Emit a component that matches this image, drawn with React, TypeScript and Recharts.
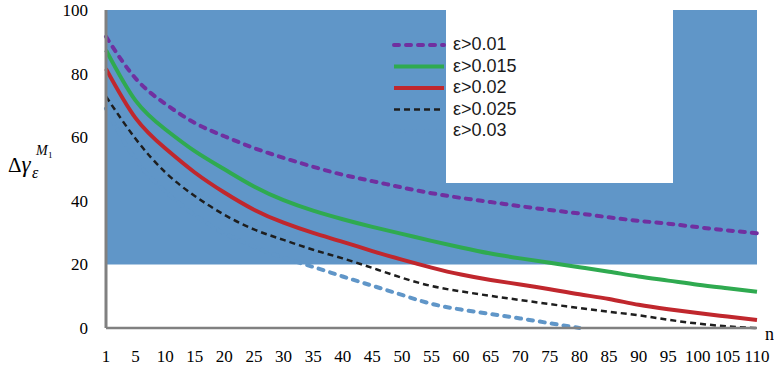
import { LineChart, Line, XAxis, YAxis, ReferenceArea } from "recharts";

// x categories (n)
const nLabels = [1, 5, 10, 15, 20, 25, 30, 35, 40, 45, 50, 55, 60, 65, 70, 75, 80, 85, 90, 95, 100, 105, 110];

// series values
const eps001 = [91.6, 78.5, 70.5, 64.5, 60.3, 56.6, 53.5, 50.7, 48.2, 46.2, 44.2, 42.4, 40.9, 39.6, 38.3, 37.1, 36, 34.8, 33.7, 32.8, 31.7, 30.7, 29.8];
const eps0015 = [87.4, 71.5, 62.5, 55.6, 49.9, 44.5, 40.2, 36.9, 34.2, 31.8, 29.6, 27.4, 25.3, 23.4, 21.9, 20.5, 19.1, 17.7, 16.2, 14.9, 13.6, 12.5, 11.4];
const eps002 = [81.5, 66, 56.5, 48.9, 42.6, 37.2, 33.1, 29.9, 27.1, 24.2, 21.5, 19, 16.8, 15.1, 13.7, 12.2, 10.6, 9.1, 7.3, 5.9, 4.7, 3.6, 2.5];
const eps0025 = [72.8, 59.5, 49, 41.5, 35.6, 31, 27.7, 24.6, 21.9, 18.9, 15.8, 13.2, 11.5, 10.1, 8.8, 7.5, 6.3, 5.1, 4, 2.6, 1.4, 0.5, 0];
const eps003 = [69, 53, 43, 35.5, 29.8, 25.6, 22.1, 19.2, 16.2, 13.3, 10.4, 7.6, 5.8, 4.4, 3, 1.5, 0, null, null, null, null, null, null];

const legendNames = ["ε>0.01", "ε>0.015", "ε>0.02", "ε>0.025", "ε>0.03"];
const yTicks = [0, 20, 40, 60, 80, 100];

const BG_BLUE = "#6096C8";

const seriesStyle = [
  { key: "s0", color: "#7030A0", width: 4, dash: "5 7", cap: "round" },
  { key: "s1", color: "#2FAA50", width: 4, dash: undefined, cap: "butt" },
  { key: "s2", color: "#C0272D", width: 4, dash: undefined, cap: "butt" },
  { key: "s3", color: "#1E1E1E", width: 2.5, dash: "6 4", cap: "butt" },
  { key: "s4", color: BG_BLUE, width: 4, dash: "5 7", cap: "round" },
];

const data = nLabels.map((n, i) => ({
  n: String(n),
  s0: eps001[i],
  s1: eps0015[i],
  s2: eps002[i],
  s3: eps0025[i],
  s4: eps003[i],
}));

const serif = '"Times New Roman", "Liberation Serif", "DejaVu Serif", serif';
const sans = '"Liberation Sans", Arial, sans-serif';

export default function App() {
  return (
    <div style={{ position: "relative", width: 774, height: 368, background: "#fff", fontFamily: serif }}>
      <style>{"body{margin:0} .serif text, text.serif {font-family: " + serif + ";}"}</style>
      <LineChart
        className="serif"
        width={774}
        height={368}
        data={data}
        margin={{ top: 10, right: 17, bottom: 0, left: 0 }}
      >
        <ReferenceArea y1={20} y2={100} fill={BG_BLUE} fillOpacity={1} stroke="none" ifOverflow="visible" />
        <XAxis
          dataKey="n"
          type="category"
          interval={0}
          height={40}
          tickLine={false}
          tickSize={0}
          tickMargin={22}
          axisLine={{ stroke: "#808080", strokeWidth: 2.5 }}
          tick={{ fill: "#000", fontSize: 17, fontFamily: serif }}
        />
        <YAxis
          domain={[0, 100]}
          ticks={yTicks}
          width={106}
          tickLine={false}
          tickSize={0}
          tickMargin={18}
          axisLine={{ stroke: "#808080", strokeWidth: 3 }}
          tick={{ fill: "#000", fontSize: 17, fontFamily: serif }}
        />
        {seriesStyle.map((s, i) => (
          <Line
            key={s.key}
            dataKey={s.key}
            name={legendNames[i]}
            type="natural"
            stroke={s.color}
            strokeWidth={s.width}
            strokeDasharray={s.dash}
            strokeLinecap={s.cap as any}
            dot={false}
            activeDot={false}
            isAnimationActive={false}
          />
        ))}
      </LineChart>

      <svg width={774} height={368} style={{ position: "absolute", left: 0, top: 0, pointerEvents: "none" }}>
        {/* legend */}
        <rect x={446} y={9} width={227} height={174} fill="#fff" />
        {legendNames.map((name, i) => {
          const s = seriesStyle[i];
          const base = 50 + i * 21.5;
          return (
            <g key={name}>
              <line
                x1={394}
                x2={444}
                y1={base - 5}
                y2={base - 5}
                stroke={s.color}
                strokeWidth={s.width}
                strokeDasharray={s.dash}
                strokeLinecap={s.cap as any}
              />
              <text x={453} y={base} fontSize={18} fontFamily={sans} fill="#1a1a1a">
                {name}
              </text>
            </g>
          );
        })}

        {/* y axis title */}
        <g fill="#000">
          <text className="serif" x={8} y={172}>
            <tspan fontSize={21}>Δ</tspan>
            <tspan fontSize={23} fontStyle="italic">γ</tspan>
          </text>
          <text className="serif" x={32} y={178} fontSize={16} fontStyle="italic">
            ε
          </text>
          <text className="serif" x={36} y={155} fontSize={14} fontStyle="italic">
            M
          </text>
          <text className="serif" x={48} y={158} fontSize={9}>
            1
          </text>
          {/* x axis title */}
          <text className="serif" x={765} y={340} fontSize={18}>
            n
          </text>
        </g>
      </svg>
    </div>
  );
}
